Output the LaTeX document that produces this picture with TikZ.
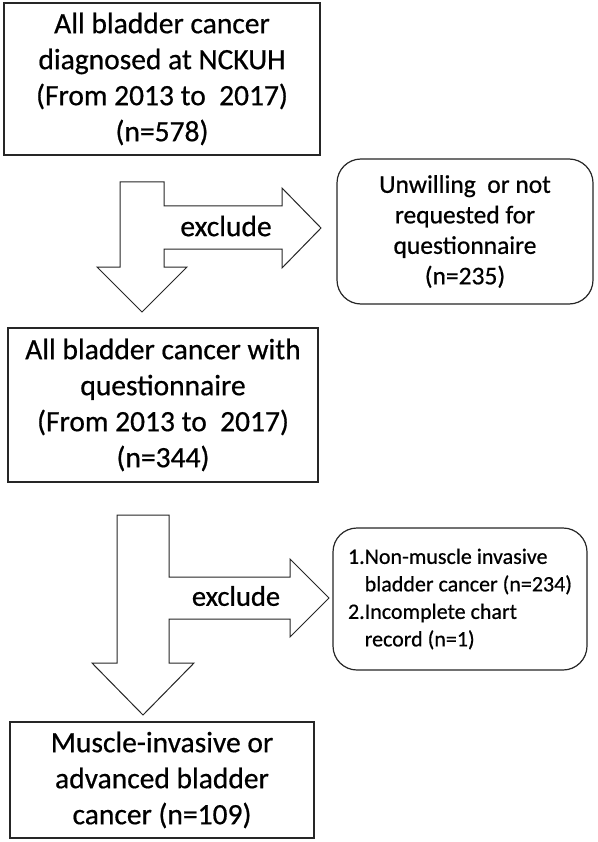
\documentclass[tikz,border=0pt]{standalone}
\usepackage{fontspec}
\setmainfont{Carlito}[FakeBold=0.6]
\begin{document}
\begin{tikzpicture}[x=1pt,y=-1pt,
  line width=1.2pt,
  sqbox/.style={draw=black!85, fill=white, rectangle, inner sep=0pt, align=center},
  rndbox/.style={draw=black!85, fill=white, rectangle, rounded corners=24pt, inner sep=0pt},
  blockarrow/.style={draw=black!85, fill=white, line width=1pt, line join=miter},
  bigfont/.style={font=\fontsize{29.5}{36}\selectfont},
  midfont/.style={font=\fontsize{25.5}{30.5}\selectfont},
  smallfont/.style={font=\fontsize{22}{27.5}\selectfont},
  exfont/.style={font=\fontsize{29.5}{34}\selectfont}]
\useasboundingbox (0,0) rectangle (597,842);

% boxes
\node[sqbox, bigfont, minimum width=316pt, minimum height=152pt] (b1) at (162,79)
  {All bladder cancer\\diagnosed at NCKUH\\(From 2013 to\ \ 2017)\\(n=578)};
\node[rndbox, midfont, align=center, minimum width=256pt, minimum height=145pt] (r1) at (465,231.5)
  {Unwilling\ \ or not\\requested for\\questionnaire\\(n=235)};
\node[sqbox, bigfont, minimum width=310pt, minimum height=154pt] (b2) at (163,405)
  {All bladder cancer with\\questionnaire\\(From 2013 to\ \ 2017)\\(n=344)};
\node[rndbox, smallfont, align=left, minimum width=254pt, minimum height=142pt] (r2) at (460,599)
  {1.Non-muscle invasive\\\phantom{1.}bladder cancer (n=234)\\2.Incomplete chart\\\phantom{2.}record (n=1)};
\node[sqbox, bigfont, minimum width=304pt, minimum height=116pt] (b3) at (162,780)
  {Muscle-invasive or\\advanced bladder\\cancer (n=109)};

% block arrow 1 (down + right, one outline)
\coordinate (a1s) at (120,182);
\draw[blockarrow] (a1s) -- (164,182) -- (164,206) -- (282,206) -- (282,188) -- (321,228)
  -- (282,268) -- (282,249) -- (164,249) -- (164,267) -- (187,267) -- (142,312)
  -- (97,267) -- (120,267) -- cycle;
\node[exfont] (ex1) at (226,226) {exclude};

% block arrow 2 (down + right, one outline)
\coordinate (a2s) at (117,515);
\draw[blockarrow] (a2s) -- (169,515) -- (169,577) -- (290,577) -- (290,559) -- (329,598)
  -- (290,637) -- (290,619) -- (169,619) -- (169,663) -- (194,663) -- (143,715)
  -- (92,663) -- (117,663) -- cycle;
\node[font=\fontsize{28.5}{33}\selectfont] (ex2) at (236,596) {exclude};
\end{tikzpicture}
\end{document}
